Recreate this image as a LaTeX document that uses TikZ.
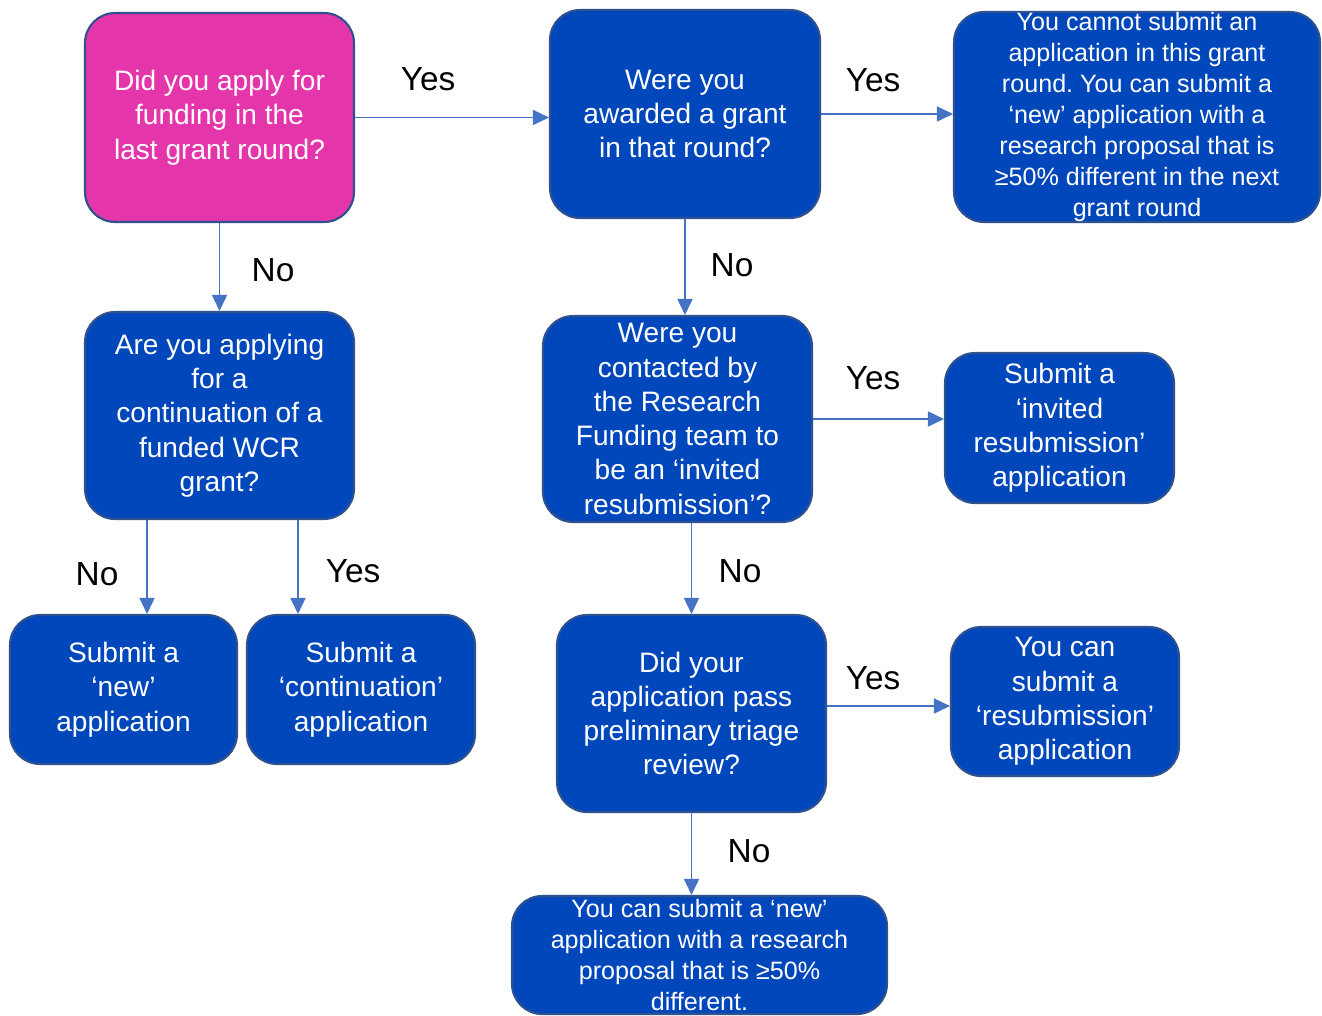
\documentclass[tikz,border=0pt]{standalone}
\usepackage{fontspec}
\setmainfont{Liberation Sans}
\usetikzlibrary{arrows.meta}
\frenchspacing

\definecolor{boxblue}{HTML}{0047BB}
\definecolor{boxpink}{HTML}{E535AB}
\definecolor{boxline}{HTML}{2F528F}
\definecolor{flowblue}{HTML}{4472C4}

\tikzset{
  qbox/.style={draw=boxline, line width=1.2pt, fill=boxblue, rounded corners=0.6cm,
    text=white, align=center, inner sep=0pt, font=\fontsize{16}{19.5}\selectfont},
  densebox/.style={qbox, font=\fontsize{14.3}{17.6}\selectfont},
  flow/.style={draw=flowblue, line width=0.9pt, -{Triangle[width=0.3cm,length=0.32cm]}},
  answer/.style={font=\fontsize{19}{22}\selectfont},
}

\begin{document}
\begin{tikzpicture}[x=0.02cm, y=-0.02cm]
  \useasboundingbox (0,0) rectangle (1322,1015);

  % questions and outcomes
  \node[qbox, fill=boxpink, minimum width=5.38cm, minimum height=4.18cm] (last) at (219.5,117.5)
    {Did you apply for\\funding in the\\last grant round?};
  \node[qbox, minimum width=5.4cm, minimum height=4.16cm] (awarded) at (685,114)
    {Were you\\awarded a grant\\in that round?};
  \node[densebox, minimum width=7.32cm, minimum height=4.2cm] (cannot) at (1137,117)
    {You cannot submit an\\application in this grant\\round. You can submit a\\‘new’ application with a\\research proposal that is\\≥50\% different in the next\\grant round};
  \node[qbox, minimum width=5.38cm, minimum height=4.14cm] (contin) at (219.5,415.5)
    {Are you applying\\for a\\continuation of a\\funded WCR\\grant?};
  \node[qbox, minimum width=5.38cm, minimum height=4.12cm] (contacted) at (677.5,419)
    {Were you\\contacted by\\the Research\\Funding team to\\be an ‘invited\\resubmission’?};
  \node[qbox, minimum width=4.58cm, minimum height=3.0cm] (invited) at (1059.5,428)
    {Submit a\\‘invited\\resubmission’\\application};
  \node[qbox, minimum width=4.54cm, minimum height=2.98cm] (new) at (123.5,689.5)
    {Submit a\\‘new’\\application};
  \node[qbox, minimum width=4.56cm, minimum height=2.98cm] (continuation) at (361,689.5)
    {Submit a\\‘continuation’\\application};
  \node[qbox, minimum width=5.38cm, minimum height=3.94cm] (triage) at (691.5,713.5)
    {Did your\\application pass\\preliminary triage\\review?};
  \node[qbox, minimum width=4.56cm, minimum height=2.98cm] (resub) at (1065,701.5)
    {You can\\submit a\\‘resubmission’\\application};
  \node[densebox, minimum width=7.5cm, minimum height=2.36cm] (newdiff) at (699.5,955)
    {You can submit a ‘new’\\application with a research\\proposal that is ≥50\%\\different.};

  % connectors
  \draw[flow] (last.east) -- (last.east -| awarded.west);
  \draw[flow] (awarded.east) -- (awarded.east -| cannot.west);
  \draw[flow] (last.south) -- (contin.north);
  \draw[flow] (awarded.south) -- (awarded.south |- contacted.north);
  \draw[flow] (contacted.east) -- (contacted.east -| invited.west);
  \draw[flow] ([xshift=-1.45cm]contin.south) -- ([xshift=-1.45cm]contin.south |- new.north);
  \draw[flow] ([xshift=1.57cm]contin.south) -- ([xshift=1.57cm]contin.south |- continuation.north);
  \draw[flow] (triage.north |- contacted.south) -- (triage.north);
  \draw[flow] ([yshift=0.15cm]triage.east) -- ([yshift=0.15cm]triage.east -| resub.west);
  \draw[flow] (triage.south) -- (triage.south |- newdiff.north);

  % answers
  \node[answer] (yes1) at (428,79) {Yes};
  \node[answer] (yes2) at (873,80) {Yes};
  \node[answer] (no1) at (273,270) {No};
  \node[answer] (no2) at (732,265) {No};
  \node[answer] (yes3) at (873,378) {Yes};
  \node[answer] (no3) at (97,574) {No};
  \node[answer] (yes4) at (353,571) {Yes};
  \node[answer] (no4) at (740,571) {No};
  \node[answer] (yes5) at (873,678) {Yes};
  \node[answer] (no5) at (749,851) {No};
\end{tikzpicture}
\end{document}
